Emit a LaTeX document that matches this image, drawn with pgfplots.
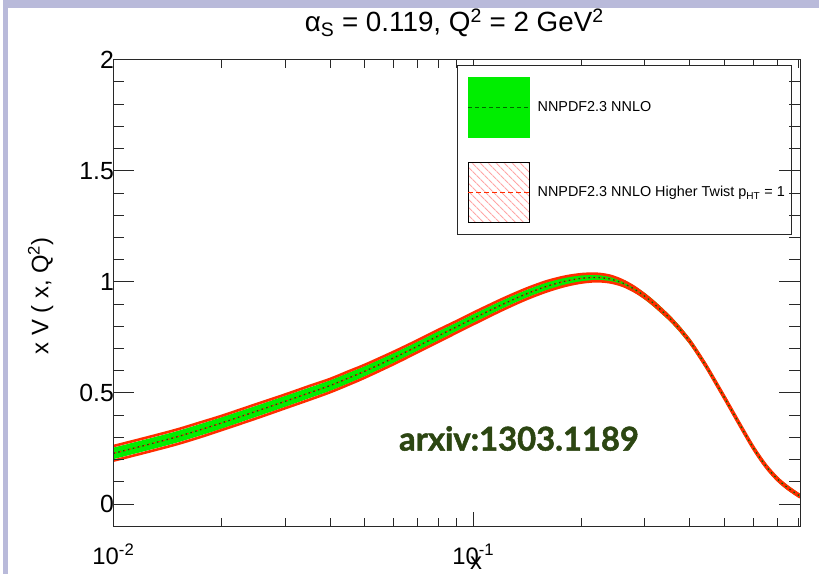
\documentclass[border=0pt]{standalone}
\usepackage{fontspec}
\setmainfont{Liberation Sans}
\newfontfamily\lato{Lato}[BoldFeatures={FakeBold=1.5}]
\usepackage{xcolor}
\usepackage{pgfplots}
\pgfplotsset{compat=1.18}
\usepackage{pgfplotstable}
\usepgfplotslibrary{fillbetween}
\usetikzlibrary{patterns.meta}

\definecolor{slide}{RGB}{185,186,218}
\definecolor{bandgreen}{RGB}{0,238,0}
\definecolor{linegreen}{RGB}{0,105,0}
\definecolor{htred}{RGB}{255,45,0}
\definecolor{arxivgreen}{RGB}{44,70,18}
\definecolor{frame}{RGB}{40,40,40}

% xV(x,Q^2): central value, NNPDF2.3 NNLO band (glo/ghi), higher-twist band (rlo/rhi)
\pgfplotstableread{
x      c     glo   ghi   rlo   rhi
0.010  0.228 0.202 0.254 0.195 0.261
0.0125 0.268 0.242 0.294 0.235 0.301
0.015  0.302 0.276 0.328 0.269 0.335
0.0175 0.335 0.309 0.361 0.302 0.368
0.020  0.365 0.339 0.391 0.333 0.397
0.025  0.418 0.393 0.443 0.386 0.450
0.030  0.462 0.437 0.487 0.431 0.493
0.035  0.500 0.476 0.524 0.469 0.531
0.040  0.533 0.509 0.557 0.503 0.563
0.045  0.567 0.543 0.591 0.537 0.597
0.050  0.598 0.575 0.621 0.569 0.627
0.060  0.657 0.635 0.679 0.629 0.685
0.070  0.710 0.689 0.731 0.683 0.737
0.080  0.757 0.736 0.778 0.730 0.784
0.090  0.798 0.778 0.818 0.772 0.824
0.100  0.835 0.815 0.855 0.809 0.861
0.120  0.897 0.878 0.916 0.872 0.922
0.140  0.945 0.927 0.963 0.921 0.969
0.160  0.980 0.962 0.998 0.957 1.003
0.180  1.003 0.985 1.021 0.982 1.024
0.200  1.016 0.999 1.033 0.997 1.035
0.220  1.020 1.003 1.037 1.003 1.037
0.240  1.013 0.997 1.029 0.998 1.028
0.260  0.995 0.979 1.011 0.983 1.007
0.280  0.968 0.953 0.983 0.958 0.978
0.300  0.935 0.920 0.950 0.927 0.943
0.320  0.898 0.883 0.913 0.891 0.905
0.350  0.840 0.826 0.854 0.834 0.846
0.3625 0.814 0.800 0.828 0.809 0.819
0.375  0.788 0.774 0.802 0.783 0.793
0.3875 0.760 0.746 0.774 0.755 0.765
0.400  0.732 0.718 0.746 0.727 0.737
0.4125 0.701 0.687 0.715 0.696 0.706
0.425  0.669 0.656 0.682 0.664 0.674
0.4375 0.637 0.624 0.650 0.632 0.642
0.450  0.605 0.592 0.618 0.600 0.610
0.500  0.477 0.464 0.490 0.472 0.482
0.550  0.359 0.347 0.371 0.354 0.364
0.600  0.254 0.242 0.266 0.249 0.259
0.650  0.172 0.160 0.184 0.167 0.177
0.700  0.113 0.102 0.124 0.108 0.118
0.750  0.072 0.061 0.083 0.067 0.077
0.810  0.035 0.025 0.045 0.030 0.040
}\xvdata

\pgfplotsset{
  rootframe/.style={
    at={(111bp,48bp)}, anchor=south west,
    scale only axis, width=689bp, height=468bp,
    ymin=-0.1, ymax=2,
    tick align=inside,
    axis line style={line width=1pt, frame},
    every tick/.style={line width=1pt, frame},
  }
}

\begin{document}
\pagecolor{white}
\begin{tikzpicture}[x=1bp,y=1bp]
\path (0,0) rectangle (819,576);
% slide margins
\fill[slide] (0,568) rectangle (819,576);
\fill[slide] (0,0) rectangle (5,576);

% data and x ticks
\begin{axis}[rootframe,
  xmode=log, xmin=0.01, xmax=0.81,
  xtick={0.01,0.1},
  xticklabels={10\textsuperscript{-2},10\textsuperscript{-1}},
  minor xtick={0.02,0.03,0.04,0.05,0.06,0.07,0.08,0.09,0.2,0.3,0.4,0.5,0.6,0.7,0.8},
  ytick=\empty,
  major tick length=14bp, minor tick length=8bp,
  xticklabel style={font=\fontsize{24}{28}\selectfont, yshift=-14bp},
  legend style={at={(0.5007,0.9893)}, anchor=north west,
    draw=frame, line width=1pt, fill=white,
    inner xsep=10bp, inner ysep=12bp, row sep=24bp,
    font=\fontsize{14.5}{18}\selectfont},
  legend cell align=left,
]
\addlegendimage{legend image code/.code={
  \fill[bandgreen] (0bp,-30bp) rectangle (61bp,30bp);
  \draw[linegreen, line width=1pt, dash pattern=on 4bp off 3bp] (0bp,0bp) -- (61bp,0bp);}}
\addlegendentry{\hspace*{6bp}NNPDF2.3 NNLO}
\addlegendimage{legend image code/.code={
  \fill[pattern={Lines[angle=-45,distance=6bp,line width=1.2bp]}, pattern color=red!35] (0bp,-30bp) rectangle (61bp,30bp);
  \draw[htred, line width=1pt, dash pattern=on 5bp off 3bp] (0bp,0bp) -- (61bp,0bp);}}
\addlegendentry{\hspace*{6bp}NNPDF2.3 NNLO Higher Twist p\textsubscript{HT} = \makebox[3bp][l]{1}}

\addplot[name path=gl, draw=none, smooth, forget plot] table[x=x,y=glo]{\xvdata};
\addplot[name path=gu, draw=none, smooth, forget plot] table[x=x,y=ghi]{\xvdata};
\addplot[bandgreen, forget plot] fill between[of=gu and gl];
\addplot[htred, line width=2.6bp, smooth, forget plot] table[x=x,y=rlo]{\xvdata};
\addplot[htred, line width=2.6bp, smooth, forget plot] table[x=x,y=rhi]{\xvdata};
\addplot[htred, line width=1.2bp, dash pattern=on 3bp off 2bp, smooth, forget plot] table[x=x,y=c]{\xvdata};
\addplot[linegreen, line width=1.3bp, dash pattern=on 1.5bp off 3.5bp, smooth, forget plot] table[x=x,y=c]{\xvdata};
\addplot[linegreen, line width=1.5bp, forget plot] coordinates {(0.01,0) (0.01,0.202)};
\end{axis}

% y ticks
\begin{axis}[rootframe,
  xmin=0, xmax=1, xtick=\empty,
  ytick={0,0.5,1,1.5,2}, minor y tick num=4,
  major tick length=21bp, minor tick length=11bp,
  /pgf/number format/assume math mode=true,
  yticklabel style={font=\fontsize{25}{30}\selectfont, xshift=4bp},
]
\end{axis}

\node[anchor=base, font=\fontsize{28}{32}\selectfont] at (453,544)
  {α\textsubscript{S} = 0.119, Q\textsuperscript{2} = 2 GeV\textsuperscript{2}};
\node[rotate=90, font=\fontsize{24}{28}\selectfont] at (38,279)
  {x V ( x, Q\textsuperscript{2})};
\node[font=\fontsize{24}{28}\selectfont] at (475,11) {x};
\node[font=\lato\bfseries\fontsize{33}{38}\selectfont, text=arxivgreen] at (518,136)
  {arxiv:1303.1189};
\end{tikzpicture}
\end{document}
